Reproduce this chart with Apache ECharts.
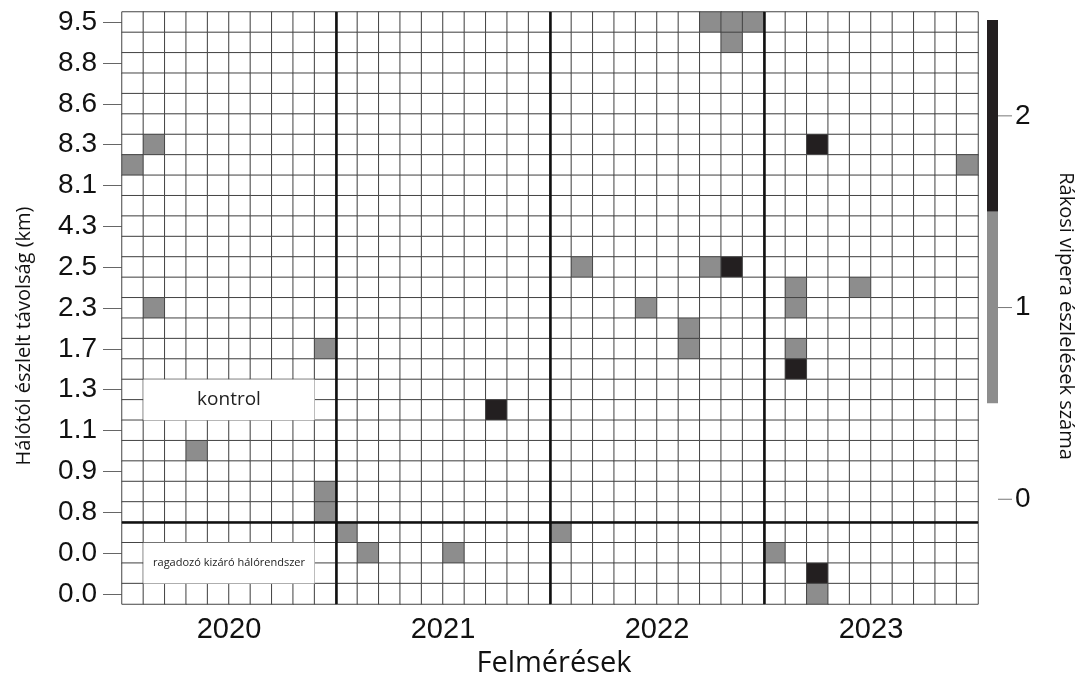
<!DOCTYPE html>
<html><head><meta charset="utf-8">
<script src="https://cdn.jsdelivr.net/npm/echarts@6/dist/echarts.min.js"></script>
<style>html,body{margin:0;padding:0;background:#fff}#c{width:1078px;height:682px}</style>
</head><body><div id="c"></div>
<script>
const years = ['2020', '2021', '2022', '2023'];
const surveysPerYear = 10;
const distanceLabels = ['9.5', '8.8', '8.6', '8.3', '8.1', '4.3', '2.5', '2.3', '1.7', '1.3', '1.1', '0.9', '0.8', '0.0', '0.0'];
const countLevels = [0, 1, 2];
const levelColors = ['#ffffff', '#8d8d8d', '#231f20'];
const countAxisName = 'Rákosi vipera észlelések száma';
const distanceAxisName = 'Hálótól észlelt távolság (km)';
const surveyAxisName = 'Felmérések';
const zoneLabels = ['kontrol', 'ragadozó kizáró hálórendszer'];
const netZoneRows = 4;
// [survey column, distance row (0 = top row), sightings]
const sightings = [
  [0, 7, 1], [1, 6, 1], [1, 14, 1], [3, 21, 1], [9, 16, 1], [9, 23, 1], [9, 24, 1],
  [10, 25, 1], [11, 26, 1], [15, 26, 1], [17, 19, 2],
  [20, 25, 1], [21, 12, 1], [24, 14, 1], [26, 15, 1], [26, 16, 1], [27, 0, 1], [27, 12, 1],
  [28, 0, 1], [28, 1, 1], [28, 12, 2], [29, 0, 1],
  [30, 26, 1], [31, 13, 1], [31, 14, 1], [31, 16, 1], [31, 17, 2], [32, 6, 2], [32, 27, 2],
  [32, 28, 1], [34, 13, 1], [39, 7, 1]
];

const cols = [];
years.forEach(y => { for (let s = 1; s <= surveysPerYear; s++) cols.push(y + '/' + s); });
const rows = [];
distanceLabels.forEach((d, i) => { rows.push(d); if (i < distanceLabels.length - 1) rows.push(''); });
const lookup = {};
sightings.forEach(([c, r, n]) => { lookup[c + '_' + r] = n; });
const cells = [];
for (let c = 0; c < cols.length; c++) {
  for (let r = 0; r < rows.length; r++) cells.push([c, r, lookup[c + '_' + r] || 0]);
}
const yearBounds = years.slice(1).map((y, i) => (i + 1) * surveysPerYear);
const zoneBound = rows.length - netZoneRows;

const chart = echarts.init(document.getElementById('c'), null, {renderer: 'canvas'});
chart.setOption({
  animation: false,
  backgroundColor: '#fff',
  grid: {left: 122, top: 12, width: 856, height: 592, outerBoundsMode: 'none', containLabel: false},
  xAxis: [
    {type: 'category', data: cols, position: 'bottom', axisLine: {show: false}, axisTick: {show: false},
     axisLabel: {show: false}, splitLine: {show: false}},
    {type: 'category', data: years, position: 'bottom', axisLine: {show: false}, axisTick: {show: false},
     axisLabel: {fontFamily: 'Liberation Sans', fontSize: 29, color: '#111', margin: 11},
     name: surveyAxisName, nameLocation: 'middle', nameGap: 41,
     nameTextStyle: {fontFamily: 'Open Sans', fontSize: 29, color: '#111', padding: [0, 0, 0, 8]}},
    {type: 'value', min: 0, max: cols.length, position: 'top', show: false}
  ],
  yAxis: [
    {type: 'category', data: rows, inverse: true, axisLine: {show: false},
     axisTick: {show: true, interval: 1, alignWithLabel: true, length: 19, lineStyle: {color: '#666'}},
     axisLabel: {interval: 1, fontFamily: 'Liberation Sans', fontSize: 28, color: '#111', margin: 25},
     splitLine: {show: false},
     name: distanceAxisName, nameLocation: 'middle', nameGap: 88,
     nameTextStyle: {fontFamily: 'Open Sans', fontSize: 20, color: '#111', padding: [0, 56, 0, 0]}},
    {type: 'value', min: 0, max: rows.length, inverse: true, position: 'right',
     axisLine: {show: false}, axisTick: {show: false}, axisLabel: {show: false}, splitLine: {show: false},
     name: countAxisName, nameLocation: 'middle', nameRotate: -90, nameGap: 78,
     nameTextStyle: {fontFamily: 'Open Sans', fontSize: 20, color: '#111', padding: [0, 0, 0, 16]}}
  ],
  visualMap: {
    type: 'piecewise', seriesIndex: 0, dimension: 2, orient: 'vertical', align: 'left',
    left: 987, top: 20, padding: 0, itemWidth: 11, itemHeight: 191.7, itemGap: 0,
    itemSymbol: 'rect', textGap: 0, selectedMode: false, hoverLink: false,
    pieces: countLevels.map((v, i) => ({value: v, color: levelColors[i], label: '{t|}{n|' + v + '}'})),
    textStyle: {color: '#111', rich: {
      t: {width: 14, height: 1, backgroundColor: '#777'},
      n: {fontFamily: 'Liberation Sans', fontSize: 28, color: '#111', padding: [0, 0, 0, 3]}
    }}
  },
  series: [
    {type: 'heatmap', xAxisIndex: 0, yAxisIndex: 0, data: cells, z: 2,
     itemStyle: {borderColor: '#444', borderWidth: 1}, emphasis: {disabled: true}, progressive: 0},
    {type: 'line', xAxisIndex: 2, yAxisIndex: 1, data: [], silent: true, z: 5,
     markLine: {silent: true, z: 12, symbol: ['none', 'none'], label: {show: false}, animation: false,
       lineStyle: {color: '#111', width: 2.5, type: 'solid'},
       data: yearBounds.map(x => ({xAxis: x})).concat([{yAxis: zoneBound}])},
     markArea: {silent: true, z: 10, animation: false, itemStyle: {color: '#fff', opacity: 1},
       label: {show: true, position: 'inside', color: '#222', fontFamily: 'Open Sans'},
       data: [
         [{name: zoneLabels[0], xAxis: 1, yAxis: 18, label: {fontSize: 19}}, {xAxis: 9, yAxis: 20}],
         [{name: zoneLabels[1], xAxis: 1, yAxis: 26, label: {fontSize: 11}}, {xAxis: 9, yAxis: 28}]
       ]}}
  ]
});
</script></body></html>
